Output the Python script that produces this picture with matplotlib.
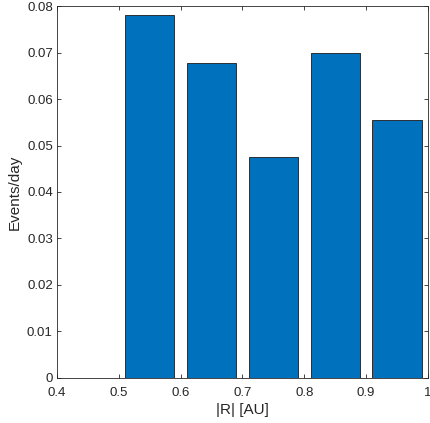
import numpy as np
from matplotlib import pyplot as plt

plt.rcParams['font.family'] = ['Liberation Sans', 'DejaVu Sans']

# bin centres and event rates
centers = [0.55, 0.65, 0.75, 0.85, 0.95]
rates = [0.0781, 0.0678, 0.0476, 0.0698, 0.0554]
xticks = [0.4, 0.5, 0.6, 0.7, 0.8, 0.9, 1.0]
xticklabels = ['0.4', '0.5', '0.6', '0.7', '0.8', '0.9', '1']
yticks = [0, 0.01, 0.02, 0.03, 0.04, 0.05, 0.06, 0.07, 0.08]
yticklabels = ['0', '0.01', '0.02', '0.03', '0.04', '0.05', '0.06', '0.07', '0.08']

fig = plt.figure(figsize=(4.3, 4.23), dpi=100)
ax = fig.add_axes([0.1326, 0.1064, 0.8627, 0.8794])

ax.bar(centers, rates, width=0.08, color='#0072BD', edgecolor='#1a1a1a', linewidth=0.6)

ax.set_xlim(0.4, 1.0)
ax.set_ylim(0, 0.08)
ax.set_xticks(xticks)
ax.set_xticklabels(xticklabels)
ax.set_yticks(yticks)
ax.set_yticklabels(yticklabels)
ax.tick_params(direction='in', top=True, right=True, labelsize=9.5, length=3,
               width=0.6, colors='#262626')
ax.tick_params(axis='x', pad=6.5)
ax.tick_params(axis='y', pad=3)
for s in ax.spines.values():
    s.set_linewidth(0.6)
    s.set_color('#262626')

ax.set_xlabel('|R| [AU]', fontsize=11, color='#262626', labelpad=3)
ax.set_ylabel('Events/day', fontsize=11, color='#262626', labelpad=4)

fig.savefig('out.png', dpi=100)
